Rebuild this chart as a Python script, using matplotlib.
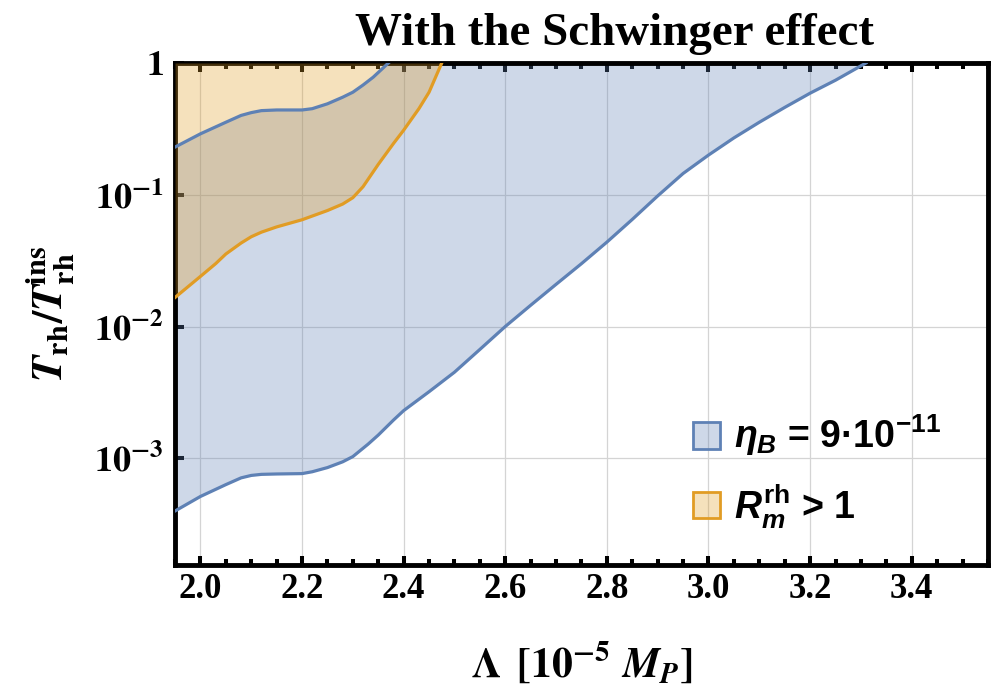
import matplotlib
matplotlib.use("Agg")
import matplotlib.pyplot as plt
import numpy as np
from matplotlib.patches import Patch
from matplotlib.ticker import FixedLocator, MultipleLocator, NullLocator

plt.rcParams['font.family'] = ['Liberation Serif', 'DejaVu Serif']
plt.rcParams['font.weight'] = 'bold'
plt.rcParams['mathtext.fontset'] = 'stix'

# eta_B = 9e-11 band: upper and lower boundary
eta_hi_x = [1.95, 2.00, 2.05, 2.08, 2.10, 2.12, 2.15, 2.20, 2.22, 2.25, 2.28, 2.30, 2.32, 2.34, 2.36, 2.37]
eta_hi_y = [0.23, 0.29, 0.355, 0.40, 0.42, 0.435, 0.44, 0.44, 0.45, 0.49, 0.55, 0.60, 0.68, 0.78, 0.92, 1.0]

eta_lo_x = [1.95, 2.00, 2.05, 2.08, 2.10, 2.12, 2.15, 2.20, 2.22, 2.25, 2.28, 2.30,
            2.33, 2.35, 2.38, 2.40, 2.45, 2.50, 2.55, 2.60, 2.65, 2.70, 2.75,
            2.80, 2.85, 2.90, 2.95, 3.00, 3.05, 3.10, 3.15, 3.20, 3.25, 3.31]
eta_lo_y = [3.98e-4, 5.13e-4, 6.31e-4, 7.1e-4, 7.41e-4, 7.55e-4, 7.6e-4, 7.65e-4,
            7.9e-4, 8.5e-4, 9.4e-4, 1.03e-3, 1.28e-3, 1.5e-3, 1.95e-3, 2.3e-3,
            3.2e-3, 4.5e-3, 6.7e-3, 1.0e-2, 1.45e-2, 2.09e-2, 3.0e-2, 4.37e-2,
            6.5e-2, 0.098, 0.145, 0.20, 0.27, 0.355, 0.46, 0.59, 0.74, 1.0]

# R_m^rh = 1 contour (region above it has R_m^rh > 1)
rm_x = [1.95, 2.00, 2.03, 2.05, 2.08, 2.10, 2.12, 2.15, 2.20, 2.25, 2.28, 2.30,
        2.32, 2.35, 2.38, 2.40, 2.43, 2.45, 2.475]
rm_y = [0.0166, 0.024, 0.030, 0.0355, 0.043, 0.048, 0.052, 0.057, 0.0646, 0.0759,
        0.085, 0.095, 0.115, 0.17, 0.245, 0.309, 0.45, 0.60, 1.0]

xticks = [2.0, 2.2, 2.4, 2.6, 2.8, 3.0, 3.2, 3.4]
yticks = [1e-3, 1e-2, 1e-1, 1]
ytick_labels = [r'$\mathbf{10^{-3}}$', r'$\mathbf{10^{-2}}$', r'$\mathbf{10^{-1}}$', r'$\mathbf{1}$']

blue = '#5E81B5'
orange = '#E19C24'

fig = plt.figure(figsize=(9.95, 6.93), dpi=100)
ax = fig.add_axes([0.1759, 0.1847, 0.817, 0.7244])
ax.set_yscale('log')

# blue band polygon: lower edge, then along the top, then upper edge back
poly_x = np.concatenate([eta_lo_x, eta_hi_x[::-1]])
poly_y = np.concatenate([eta_lo_y, eta_hi_y[::-1]])
ax.fill(poly_x, poly_y, color=blue, alpha=0.3, lw=0, zorder=2)
ax.fill_between(rm_x, rm_y, 1, color=orange, alpha=0.3, lw=0, zorder=3)

ax.plot(eta_hi_x, eta_hi_y, color=blue, lw=2.3, zorder=4)
ax.plot(eta_lo_x, eta_lo_y, color=blue, lw=2.3, zorder=4)
ax.plot(rm_x, rm_y, color=orange, lw=2.3, zorder=4)

ax.set_xlim(1.95, 3.55)
ax.set_ylim(10**-3.81, 1)

ax.xaxis.set_major_locator(FixedLocator(xticks))
ax.xaxis.set_minor_locator(MultipleLocator(0.05))
ax.set_xticklabels(['%.1f' % t for t in xticks])
ax.set_yticks(yticks)
ax.set_yticklabels(ytick_labels)
ax.yaxis.set_minor_locator(NullLocator())

ax.grid(True, which='major', color='#d4d4d4', lw=0.9, zorder=1)
ax.set_axisbelow(True)

for sp in ax.spines.values():
    sp.set_linewidth(3.5)
ax.tick_params(axis='x', which='major', direction='in', length=6.8, width=2.9,
               top=True, labelsize=25, pad=6)
ax.tick_params(axis='x', which='minor', direction='in', length=4.3, width=2.9, top=True)
ax.tick_params(axis='y', which='major', direction='in', length=6.8, width=2.9,
               right=False, labelsize=26, pad=8)

ax.set_xlabel(r'$\mathbf{\Lambda\ \,[10^{-5}}\ \mathbfit{M_P}\mathbf{]}$', fontsize=30, labelpad=24)
ax.set_ylabel(r'$\mathbfit{T}_{\mathbf{rh}}\mathbf{/}\mathbfit{T}_{\mathbf{rh}}^{\mathbf{ins}}$',
              fontsize=31, labelpad=13)

fig.text(0.618, 0.935, 'With the Schwinger effect', ha='center', va='baseline',
         fontsize=33.8, fontweight='bold')

plt.rcParams['mathtext.rm'] = 'Liberation Sans:bold'
plt.rcParams['mathtext.it'] = 'Liberation Sans:bold:italic'
plt.rcParams['mathtext.bf'] = 'Liberation Sans:bold'
handles = [Patch(facecolor=(0.368, 0.507, 0.710, 0.3), edgecolor=blue, lw=2),
           Patch(facecolor=(0.881, 0.611, 0.142, 0.3), edgecolor=orange, lw=2)]
labels = [r'$\eta_B$ = 9·10$^{-11}$', r'$R_m^{\mathrm{rh}}$ > 1']
leg = ax.legend(handles, labels, loc='upper left', bbox_to_anchor=(0.637, 0.303),
                frameon=False, handlelength=0.72, handleheight=0.72,
                handletextpad=0.38, labelspacing=0.62, borderpad=0, borderaxespad=0,
                prop={'family': 'Liberation Sans', 'weight': 'bold', 'size': 27})
for t in leg.get_texts():
    t.set_math_fontfamily('custom')

fig.savefig('out.png', dpi=100)
